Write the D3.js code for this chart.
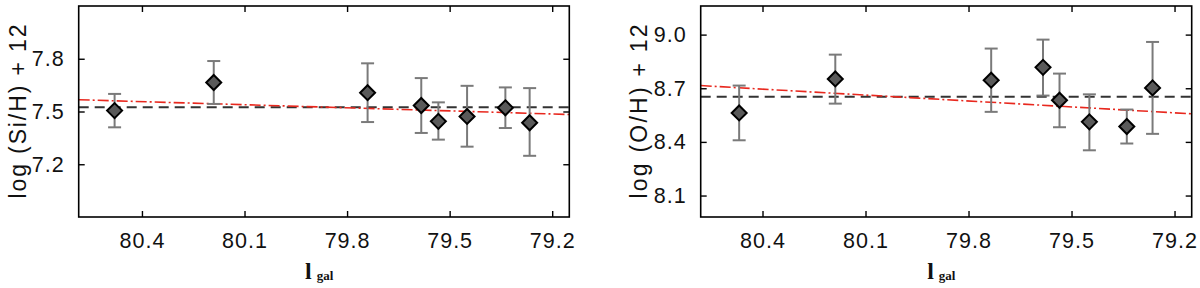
<!DOCTYPE html>
<html><head><meta charset="utf-8">
<script src="https://cdn.jsdelivr.net/npm/d3@7"></script>
<style>body{margin:0;background:#fff}svg{display:block}</style>
</head><body>
<svg id="c" width="1200" height="288"></svg>
<script>
// ---- data ----
const xTicks = [80.4, 80.1, 79.8, 79.5, 79.2];

const lgalSi = [80.48, 80.19, 79.74, 79.583, 79.533, 79.449, 79.337, 79.266];
const siVal  = [7.505, 7.665, 7.607, 7.534, 7.444, 7.472, 7.521, 7.436];
const siLo   = [7.41, 7.543, 7.44, 7.378, 7.34, 7.30, 7.406, 7.248];
const siHi   = [7.60, 7.787, 7.774, 7.69, 7.552, 7.646, 7.637, 7.633];
const siTicks = [7.2, 7.5, 7.8];
const siMean = 7.524;
const siFitX = [80.585, 79.15];
const siFitY = [7.567, 7.483];

const lgalO = [80.468, 80.188, 79.734, 79.583, 79.535, 79.448, 79.339, 79.264];
const oVal  = [8.562, 8.752, 8.745, 8.817, 8.633, 8.512, 8.486, 8.702];
const oLo   = [8.409, 8.614, 8.568, 8.659, 8.482, 8.353, 8.391, 8.445];
const oHi   = [8.715, 8.888, 8.922, 8.972, 8.782, 8.666, 8.581, 8.959];
const oTicks = [8.1, 8.4, 8.7, 9.0];
const oMean = 8.652;
const oFitX = [80.58, 79.15];
const oFitY = [8.715, 8.557];

const svg = d3.select("#c");

function panel(cfg) {
  const {x0, x1, y0, y1, xDom, yDom, yTicks, xs, ys, lo, hi, mean, fitX, fitY, ytitle, ytx} = cfg;
  const x = d3.scaleLinear().domain(xDom).range([x0, x1]);
  const y = d3.scaleLinear().domain(yDom).range([y1, y0]);
  const g = svg.append("g");

  // reference lines
  g.append("line").attr("x1", x0).attr("x2", x1).attr("y1", y(mean)).attr("y2", y(mean))
    .attr("stroke", "#333").attr("stroke-width", 2).attr("stroke-dasharray", "10,6");
  g.append("line").attr("x1", x(fitX[0])).attr("x2", x(fitX[1])).attr("y1", y(fitY[0])).attr("y2", y(fitY[1]))
    .attr("stroke", "#e8281e").attr("stroke-width", 1.6).attr("stroke-dasharray", "11,3,2,3");

  // error bars
  const idx = d3.range(xs.length);
  const eb = g.append("g").attr("stroke", "#7a7a7a").attr("stroke-width", 2).attr("fill", "none");
  idx.forEach(i => {
    const cx = x(xs[i]);
    eb.append("line").attr("x1", cx).attr("x2", cx).attr("y1", y(lo[i])).attr("y2", y(hi[i]));
    eb.append("line").attr("x1", cx - 6.5).attr("x2", cx + 6.5).attr("y1", y(lo[i])).attr("y2", y(lo[i]));
    eb.append("line").attr("x1", cx - 6.5).attr("x2", cx + 6.5).attr("y1", y(hi[i])).attr("y2", y(hi[i]));
  });
  // diamonds
  g.selectAll("path.pt").data(idx).join("path")
    .attr("d", i => { const cx = x(xs[i]), cy = y(ys[i]), r = 7.5; return `M${cx},${cy-r}L${cx+r},${cy}L${cx},${cy+r}L${cx-r},${cy}Z`; })
    .attr("fill", "#5a5a5a").attr("stroke", "#000").attr("stroke-width", 2);

  // frame
  g.append("rect").attr("x", x0).attr("y", y0).attr("width", x1 - x0).attr("height", y1 - y0)
    .attr("fill", "none").attr("stroke", "#000").attr("stroke-width", 1.6);

  // axes (inward ticks on all sides)
  const tl = 6;
  const ax = d3.axisBottom(x).tickValues(xTicks).tickSizeInner(-tl).tickSizeOuter(0).tickPadding(16).tickFormat(d3.format(".1f"));
  const gb = g.append("g").attr("transform", `translate(0,${y1})`).call(ax);
  const at = d3.axisTop(x).tickValues(xTicks).tickSizeInner(-tl).tickSizeOuter(0).tickFormat("");
  const gt = g.append("g").attr("transform", `translate(0,${y0})`).call(at);
  const ay = d3.axisLeft(y).tickValues(yTicks).tickSizeInner(-tl).tickSizeOuter(0).tickPadding(14).tickFormat(d3.format(".1f"));
  const gl = g.append("g").attr("transform", `translate(${x0},0)`).call(ay);
  const ar = d3.axisRight(y).tickValues(yTicks).tickSizeInner(-tl).tickSizeOuter(0).tickFormat("");
  const gr = g.append("g").attr("transform", `translate(${x1},0)`).call(ar);
  [gb, gt, gl, gr].forEach(a => {
    a.select(".domain").remove();
    a.selectAll(".tick line").attr("stroke", "#000").attr("stroke-width", 1.4);
    a.selectAll(".tick text").attr("fill", "#111").style("font-family", "'Liberation Sans', Arial, sans-serif").style("font-size", "21.5px").style("letter-spacing", "1px");
  });

  // y title
  g.append("text").attr("transform", `translate(${ytx},${(y0 + y1) / 2}) rotate(-90)`)
    .attr("text-anchor", "middle").attr("dominant-baseline", "central")
    .attr("textLength", 174).attr("lengthAdjust", "spacing")
    .style("font-family", "'Liberation Sans', Arial, sans-serif").style("font-size", "23px").attr("fill", "#111")
    .text(ytitle);

  // x title
  const xt = g.append("text").attr("x", (x0 + x1) / 2 - 19).attr("y", 279)
    .style("font-family", "'Liberation Serif', 'DejaVu Serif', serif").attr("fill", "#111");
  xt.append("tspan").style("font-size", "24px").style("font-weight", "bold").text("l");
  xt.append("tspan").attr("dx", 5).attr("dy", 1).style("font-size", "13px").style("font-weight", "bold").text("gal");
}

panel({x0: 78.7, x1: 569.3, y0: 6, y1: 217, xDom: [80.585, 79.15], yDom: [6.9, 8.1], yTicks: siTicks,
  xs: lgalSi, ys: siVal, lo: siLo, hi: siHi, mean: siMean, fitX: siFitX, fitY: siFitY,
  ytitle: "log (Si/H) + 12", ytx: 18});
panel({x0: 700.7, x1: 1191.7, y0: 6, y1: 217, xDom: [80.58, 79.15], yDom: [7.98, 9.16], yTicks: oTicks,
  xs: lgalO, ys: oVal, lo: oLo, hi: oHi, mean: oMean, fitX: oFitX, fitY: oFitY,
  ytitle: "log (O/H) + 12", ytx: 639});
</script>
</body></html>
